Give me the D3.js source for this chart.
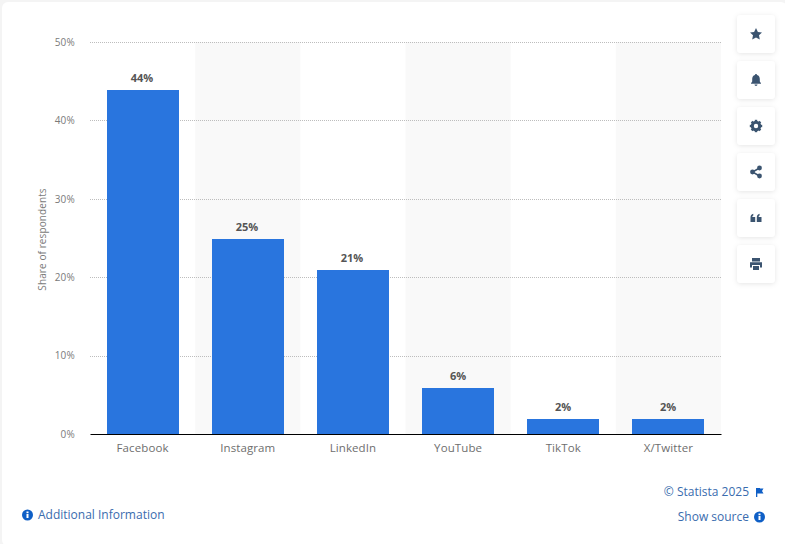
<!DOCTYPE html>
<html>
<head>
<meta charset="utf-8">
<script src="https://cdn.jsdelivr.net/npm/d3@7"></script>
<style>
  html, body { margin: 0; padding: 0; background: #f4f4f4; overflow: hidden; }
  svg { display: block; font-family: "Open Sans", sans-serif; }
</style>
</head>
<body>
<div id="chart"></div>
<script>
var categories = ["Facebook", "Instagram", "LinkedIn", "YouTube", "TikTok", "X/Twitter"];
var shares = [44, 25, 21, 6, 2, 2];
var yTicks = [0, 10, 20, 30, 40, 50];
var toolIcons = ["star", "bell", "gear", "share", "quote", "print"];

var width = 785, height = 544;
var margin = {top: 42, right: 64, bottom: 110, left: 90};
var plotW = width - margin.left - margin.right,
    plotH = height - margin.top - margin.bottom;

var svg = d3.select("#chart").append("svg")
    .attr("width", width)
    .attr("height", height);

var defs = svg.append("defs");
var shadow = defs.append("filter").attr("id", "btnShadow")
    .attr("x", "-30%").attr("y", "-30%").attr("width", "160%").attr("height", "160%");
shadow.append("feDropShadow")
    .attr("dx", 0).attr("dy", 1).attr("stdDeviation", 2.5)
    .attr("flood-color", "#000").attr("flood-opacity", 0.1);

// white card behind everything
svg.append("rect")
    .attr("x", 2).attr("y", 2)
    .attr("width", width).attr("height", height)
    .attr("rx", 6)
    .attr("fill", "#fff");

var x = d3.scaleBand().domain(categories).range([0, plotW]).paddingInner(0).paddingOuter(0);
var y = d3.scaleLinear().domain([0, 50]).range([plotH, 0]);

var g = svg.append("g")
    .attr("transform", "translate(" + margin.left + "," + margin.top + ")");

// alternating stripes
g.selectAll(".stripe")
    .data(categories.filter(function(d, i) { return i % 2 == 1; }))
    .enter().append("rect")
    .attr("class", "stripe")
    .attr("x", function(d) { return x(d); })
    .attr("y", 0)
    .attr("width", x.bandwidth())
    .attr("height", plotH)
    .attr("fill", "#f9f9f9");

// gridlines
g.selectAll(".grid")
    .data(yTicks.filter(function(d) { return d > 0; }))
    .enter().append("line")
    .attr("class", "grid")
    .attr("x1", 0).attr("x2", plotW)
    .attr("y1", function(d) { return Math.round(y(d)) + 0.5; })
    .attr("y2", function(d) { return Math.round(y(d)) + 0.5; })
    .attr("stroke", "#bdbdbd")
    .attr("stroke-dasharray", "1,1");

// y axis
var yAxis = g.append("g")
    .call(d3.axisLeft(y).tickValues(yTicks).tickSize(0).tickPadding(15)
        .tickFormat(function(d) { return d + "%"; }));
yAxis.select(".domain").remove();
yAxis.selectAll("text")
    .attr("font-size", 10)
    .attr("font-family", "'Open Sans', sans-serif")
    .attr("letter-spacing", 0.2)
    .attr("fill", "#7a7a7a");

// bars
var barW = 72;
g.selectAll(".bar")
    .data(shares)
    .enter().append("rect")
    .attr("class", "bar")
    .attr("x", function(d, i) { return Math.floor(x(categories[i]) + (x.bandwidth() - barW) / 2 + 0.5); })
    .attr("y", function(d) { return Math.round(y(d)) + 1; })
    .attr("width", barW)
    .attr("height", function(d) { return plotH - Math.round(y(d)) - 1; })
    .attr("fill", "#2975de");

// value labels
g.selectAll(".val")
    .data(shares)
    .enter().append("text")
    .attr("class", "val")
    .attr("x", function(d, i) { return Math.floor(x(categories[i]) + x.bandwidth() / 2); })
    .attr("y", function(d) { return y(d) - 7; })
    .attr("text-anchor", "middle")
    .attr("font-size", 11)
    .attr("font-weight", 700)
    .attr("fill", "#555")
    .text(function(d) { return d + "%"; });

// x axis
var xAxis = g.append("g")
    .attr("transform", "translate(0," + plotH + ")")
    .call(d3.axisBottom(x).tickSize(0).tickPadding(10));
xAxis.select(".domain").attr("stroke", "#000").attr("stroke-width", 1);
xAxis.selectAll("text")
    .attr("font-size", 11.5)
    .attr("font-family", "'Open Sans', sans-serif")
    .attr("letter-spacing", 0.1)
    .attr("fill", "#6e6e6e");

// y title
svg.append("text")
    .attr("transform", "translate(45.5,239.5) rotate(-90)")
    .attr("text-anchor", "middle")
    .attr("font-size", 10)
    .attr("letter-spacing", 0.1)
    .attr("fill", "#7a7a7a")
    .text("Share of respondents");

// side buttons
var btnG = svg.selectAll(".btn")
    .data(toolIcons)
    .enter().append("g")
    .attr("class", "btn")
    .attr("transform", function(d, i) { return "translate(756," + (34 + i * 46) + ")"; });
btnG.append("rect")
    .attr("x", -19).attr("y", -19)
    .attr("width", 38).attr("height", 38)
    .attr("rx", 4)
    .attr("fill", "#fff")
    .attr("filter", "url(#btnShadow)");

var iconColor = "#3b5470";
var iconPaths = {
    star: "M0,-6L1.9,-2.1L6,-1.6L3,1.3L3.8,5.5L0,3.4L-3.8,5.5L-3,1.3L-6,-1.6L-1.9,-2.1Z",
    bell: "M0,-6C-0.7,-6,-1,-5.5,-1,-5C-3,-4.4,-3.8,-2.8,-3.8,-1V1.5L-5,3.2V3.8H5V3.2L3.8,1.5V-1C3.8,-2.8,3,-4.4,1,-5C1,-5.5,0.7,-6,0,-6ZM-1.5,4.6H1.5C1.5,5.4,0.8,6,0,6C-0.8,6,-1.5,5.4,-1.5,4.6Z",
    quote: "M-0.8,4H-5.5V-0.5C-5.5,-2.6,-4.5,-4,-2.7,-4.3V-2.6C-3.5,-2.4,-3.7,-1.6,-3.7,-1H-0.8ZM5.5,4H0.8V-0.5C0.8,-2.6,1.8,-4,3.6,-4.3V-2.6C2.8,-2.4,2.6,-1.6,2.6,-1H5.5Z",
    print: "M-4,-6H4V-2.6H-4ZM-6,-1.8H6V3.4H4V1H-4V3.4H-6ZM-3,2H3V6H-3Z"
};
btnG.each(function(d) {
    var b = d3.select(this);
    if (iconPaths[d]) {
        b.append("path").attr("d", iconPaths[d]).attr("fill", iconColor);
    } else if (d == "gear") {
        b.append("circle").attr("r", 3.7).attr("fill", "none")
            .attr("stroke", iconColor).attr("stroke-width", 3);
        d3.range(0, 360, 45).forEach(function(a) {
            b.append("rect").attr("x", -1.2).attr("y", -6.2)
                .attr("width", 2.4).attr("height", 2.4)
                .attr("fill", iconColor)
                .attr("transform", "rotate(" + a + ")");
        });
    } else if (d == "share") {
        b.append("path").attr("d", "M3.5,-4L-3.5,0L3.5,4")
            .attr("fill", "none").attr("stroke", iconColor).attr("stroke-width", 1.5);
        [[3.5, -4], [-3.5, 0], [3.5, 4]].forEach(function(p) {
            b.append("circle").attr("cx", p[0]).attr("cy", p[1]).attr("r", 2.4).attr("fill", iconColor);
        });
    }
});

// footer links
function infoIcon(cx, cy) {
    var i = svg.append("g").attr("transform", "translate(" + cx + "," + cy + ")");
    i.append("circle").attr("r", 5.5).attr("fill", "#0f5fc6");
    i.append("rect").attr("x", -1).attr("y", -1).attr("width", 2).attr("height", 4).attr("fill", "#fff");
    i.append("rect").attr("x", -1).attr("y", -3.5).attr("width", 2).attr("height", 1.7).attr("fill", "#fff");
}
infoIcon(27.5, 515);
svg.append("text")
    .attr("x", 38).attr("y", 519)
    .attr("font-size", 12)
    .attr("fill", "#3a6cae")
    .text("Additional Information");

svg.append("text")
    .attr("x", 749).attr("y", 496)
    .attr("text-anchor", "end")
    .attr("font-size", 12)
    .attr("fill", "#3a6cae")
    .text("© Statista 2025");
svg.append("path")
    .attr("d", "M756,488V497H757.3V493.5H763.5L762,491L763.5,488.5H760V488Z")
    .attr("fill", "#0f5fc6");

svg.append("text")
    .attr("x", 749).attr("y", 521)
    .attr("text-anchor", "end")
    .attr("font-size", 12)
    .attr("fill", "#3a6cae")
    .text("Show source");
infoIcon(759.5, 517);
</script>
</body>
</html>
